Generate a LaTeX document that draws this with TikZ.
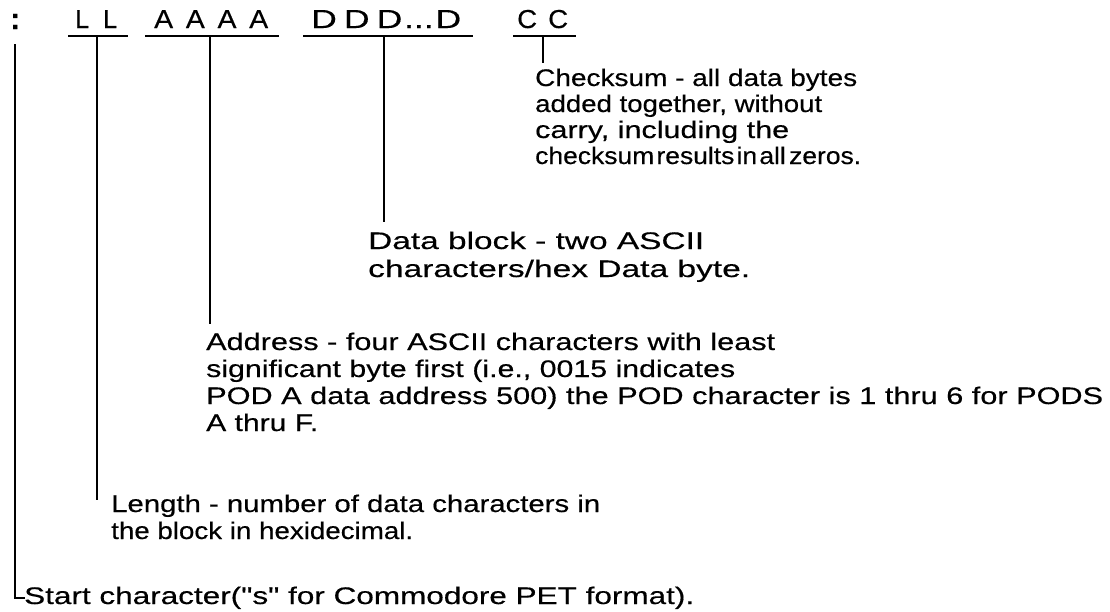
\documentclass[tikz,border=0pt]{standalone}
\usepackage{fontspec}
\setmainfont{Liberation Sans}[FakeBold=0.35]
\usepackage{graphicx}
\newsavebox\fitbox
\newcommand\fitto[2]{\sbox\fitbox{#2}\pgfmathsetmacro\fitr{(#1)/\the\wd\fitbox}\scalebox{\fitr}[1]{\usebox\fitbox}}
\begin{document}
\begin{tikzpicture}[x=1pt,y=-1pt,
  txt/.style={anchor=base west,inner sep=0pt,font=\fontsize{24}{27}\selectfont},
  hdr/.style={anchor=base west,inner sep=0pt,font=\fontsize{26}{27}\selectfont},
  rule/.style={line width=2.6pt}]
\useasboundingbox (0,0) rectangle (1110,611);
% header fields
\node[txt,font=\fontsize{30}{30}\bfseries] (colon) at (10,29) {:};
\node[hdr] (LL) at (75,28) {\fitto{42pt}{L\hspace{0.55em}L}};
\node[hdr] (AAAA) at (154,28) {\fitto{114pt}{A\hspace{0.45em}A\hspace{0.45em}A\hspace{0.45em}A}};
\node[hdr] (DDD) at (311,28) {\fitto{150pt}{D\hspace{0.2em}D\hspace{0.2em}D\hspace{0.05em}...\hspace{0.05em}D}};
\node[hdr] (CC) at (517,28) {\fitto{51pt}{C\hspace{0.4em}C}};
% underlines
\coordinate (llA) at (68,36);  \coordinate (llB) at (128,36);
\coordinate (aaA) at (145,36); \coordinate (aaB) at (279,36);
\coordinate (ddA) at (303,36); \coordinate (ddB) at (473,36);
\coordinate (ccA) at (513,36); \coordinate (ccB) at (576,36);
\draw[rule] (llA) -- (llB);
\draw[rule] (aaA) -- (aaB);
\draw[rule] (ddA) -- (ddB);
\draw[rule] (ccA) -- (ccB);
% stems
\coordinate (llT) at (97,36);  \coordinate (llE) at (97,500);
\coordinate (aaT) at (210,36); \coordinate (aaE) at (210,324);
\coordinate (ddT) at (384,36); \coordinate (ddE) at (384,222);
\coordinate (ccT) at (543,36); \coordinate (ccE) at (543,63);
\draw[rule] (llT) -- (llE);
\draw[rule] (aaT) -- (aaE);
\draw[rule] (ddT) -- (ddE);
\draw[rule] (ccT) -- (ccE);
% start line
\coordinate (stT) at (15,44); \coordinate (stC) at (15,598); \coordinate (stE) at (25,598);
\draw[rule] (stT) -- (stC) -- (stE);
% descriptions
\node[txt,font=\fontsize{24}{26}\selectfont] (chk) at (535,86) {\begin{tabular}[t]{@{}l@{}}%
\fitto{322pt}{Checksum - all data bytes}\\
\fitto{287pt}{added together, without}\\
\fitto{254pt}{carry, including the}\\
\fitto{326pt}{checksum\hspace{2pt}results\hspace{2pt}in\hspace{2pt}all\hspace{3pt}zeros.}\end{tabular}};
\node[txt,font=\fontsize{24}{28}\selectfont] (dat) at (368,249) {\begin{tabular}[t]{@{}l@{}}%
\fitto{336pt}{Data block - two ASCII}\\
\fitto{382pt}{characters/hex Data byte.}\end{tabular}};
\node[txt] (adr) at (206,350) {\begin{tabular}[t]{@{}l@{}}%
\fitto{569pt}{Address - four ASCII characters with least}\\
\fitto{529pt}{significant byte first (i.e., 0015 indicates}\\
\fitto{897pt}{POD A data address 500) the POD character is 1 thru 6 for PODS}\\
\fitto{112pt}{A thru F.}\end{tabular}};
\node[txt] (len) at (111,512) {\begin{tabular}[t]{@{}l@{}}%
\fitto{489pt}{Length - number of data characters in}\\
\fitto{302pt}{the block in hexidecimal.}\end{tabular}};
\node[txt] (sta) at (24,604) {\fitto{670pt}{Start character(\textquotedbl s\textquotedbl{} for Commodore PET format).}};
\end{tikzpicture}
\end{document}
